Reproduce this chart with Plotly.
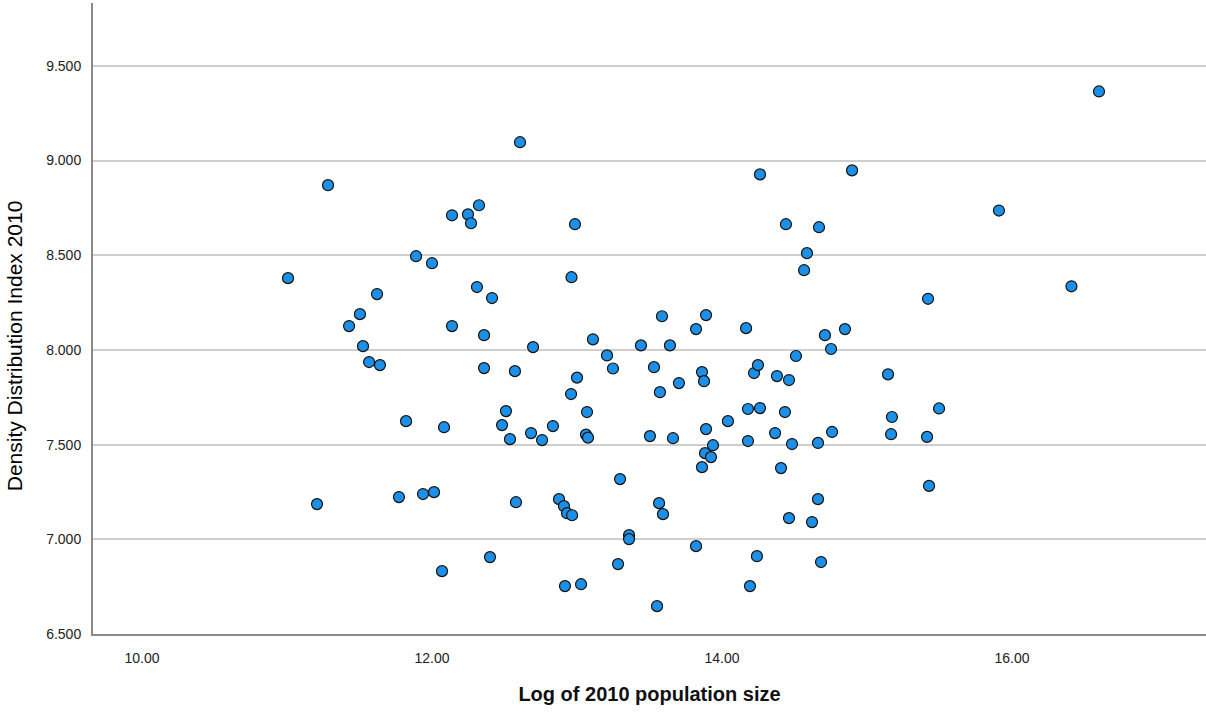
import plotly.graph_objects as go

log_pop = [
    11.007, 11.283, 12.138, 12.248, 12.269, 12.324, 11.890, 12.000, 11.621, 12.310,
    12.414, 11.503, 11.428, 12.138, 12.359, 11.524, 12.697, 12.962, 12.986, 12.607,
    11.566, 11.641, 12.359, 12.572, 12.959, 12.510, 11.821, 12.083, 12.483, 12.538,
    12.683, 12.759, 12.834, 11.207, 11.772, 11.938, 12.014, 12.579, 12.876, 12.400,
    12.069, 12.917,
    13.110, 13.441, 13.641, 13.207, 13.248, 13.000, 13.069, 13.062, 13.076, 13.503,
    13.662, 13.531, 13.572, 13.703, 13.862, 13.876, 13.890, 13.938, 13.883, 13.924,
    13.862, 14.041, 14.179, 14.262, 14.179, 14.221, 14.248, 14.379, 14.462, 14.434,
    14.366, 14.483, 14.510, 14.752, 14.759, 14.662, 12.910, 12.931, 12.966, 13.297,
    13.359, 13.359, 13.283, 13.028, 13.552, 13.566, 13.593, 13.821, 14.241, 14.193,
    14.662, 14.462, 14.621, 14.683, 14.407,
    14.262, 14.897, 14.441, 14.669, 14.586, 14.566, 13.586, 13.890, 13.821, 14.166,
    14.710, 14.848,
    15.145, 15.172, 15.166, 15.414, 15.421, 15.428, 15.497, 15.910, 16.410, 16.600,
]
density_idx = [
    8.379, 8.870, 8.711, 8.716, 8.669, 8.764, 8.495, 8.458, 8.295, 8.332,
    8.274, 8.189, 8.126, 8.126, 8.078, 8.020, 8.015, 8.384, 8.664, 9.097,
    7.936, 7.920, 7.904, 7.888, 7.767, 7.677, 7.624, 7.592, 7.603, 7.529,
    7.561, 7.524, 7.598, 7.186, 7.223, 7.239, 7.249, 7.196, 7.212, 6.906,
    6.832, 6.753,
    8.056, 8.024, 8.024, 7.971, 7.902, 7.854, 7.672, 7.553, 7.537, 7.545,
    7.534, 7.909, 7.777, 7.825, 7.883, 7.835, 7.582, 7.497, 7.455, 7.434,
    7.381, 7.624, 7.688, 7.693, 7.519, 7.878, 7.920, 7.862, 7.841, 7.672,
    7.561, 7.503, 7.968, 8.005, 7.567, 7.509, 7.175, 7.138, 7.127, 7.318,
    7.022, 7.001, 6.869, 6.763, 6.647, 7.191, 7.133, 6.964, 6.911, 6.753,
    7.212, 7.112, 7.091, 6.880, 7.376,
    8.927, 8.948, 8.664, 8.648, 8.511, 8.421, 8.178, 8.184, 8.110, 8.115,
    8.078, 8.110,
    7.871, 7.646, 7.555, 7.541, 8.270, 7.282, 7.691, 8.736, 8.336, 9.365,
]

x_ticks = [10, 12, 14, 16]
x_tick_labels = ["10.00", "12.00", "14.00", "16.00"]
y_ticks = [6.5, 7.0, 7.5, 8.0, 8.5, 9.0, 9.5]
y_tick_labels = ["6.500", "7.000", "7.500", "8.000", "8.500", "9.000", "9.500"]

fig = go.Figure()
fig.add_trace(go.Scatter(
    x=log_pop, y=density_idx, mode="markers",
    marker=dict(size=11, color="#1e8fe6", line=dict(color="#111111", width=1.2)),
    showlegend=False,
))

sans = "Liberation Sans, Arial, sans-serif"
fig.update_layout(
    width=1206, height=712,
    margin=dict(l=93, r=0, t=3, b=78),
    paper_bgcolor="white", plot_bgcolor="white",
    xaxis=dict(
        range=[9.662, 17.338], tickvals=x_ticks, ticktext=x_tick_labels,
        showgrid=False, zeroline=False, showline=True, linecolor="#8a8a8a", linewidth=2,
        ticks="", ticklabelstandoff=10,
        tickfont=dict(family=sans, size=14, color="#222"),
        title=dict(text="<b>Log of 2010 population size</b>", standoff=22,
                   font=dict(family=sans, size=20, color="#111")),
    ),
    yaxis=dict(
        range=[6.5, 9.832], tickvals=y_ticks, ticktext=y_tick_labels,
        showgrid=True, gridcolor="#cfcfcf", gridwidth=2,
        zeroline=False, showline=True, linecolor="#8a8a8a", linewidth=2,
        ticks="", ticklabelstandoff=7,
        tickfont=dict(family=sans, size=14, color="#222"),
    ),
    annotations=[dict(
        text="Density Distribution Index 2010", textangle=-90,
        xref="paper", yref="paper", x=0, y=0.456, xanchor="center", yanchor="middle",
        xshift=-79, showarrow=False,
        font=dict(family=sans, size=21, color="#000"),
    )],
)

fig.write_html("out.html")
